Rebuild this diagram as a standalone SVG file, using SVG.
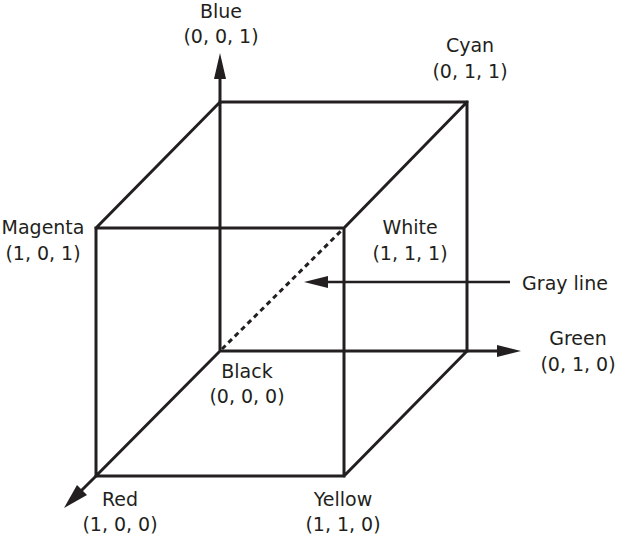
<svg xmlns="http://www.w3.org/2000/svg" width="619" height="537" viewBox="0 0 619 537">
<style>
.e{stroke:#231f20;stroke-width:3;fill:none;stroke-linecap:square}
.d{stroke:#231f20;stroke-width:3;fill:none;stroke-dasharray:5 4}
.a{fill:#231f20}
text{font-family:"DejaVu Sans","Liberation Sans",sans-serif;font-size:19px;fill:#231f20;text-anchor:middle}
</style>
<rect width="619" height="537" fill="#fff"/>
<g id="connectors">
<path class="e" d="M220,102H467V351M220,102V351H467M96,228H344V476H96ZM220,102L96,228M467,102L344,228M467,351L344,476M220,351L96,476"/>
<path class="d" d="M222,349L342,230"/>
<path class="e" d="M220,102V78"/>
<polygon class="a" points="220,53 214,79 226,79"/>
<path class="e" d="M467,351H500"/>
<polygon class="a" points="521,351 497,345 497,357"/>
<path class="e" d="M96,476L82,490"/>
<polygon class="a" points="64,508 77,485 87,495"/>
<path class="e" d="M510,282H325" style="stroke-width:2.5;stroke-linecap:butt"/>
<polygon class="a" points="304,282 328,276 328,288"/>
</g>
<g id="blue"><text x="221" y="18">Blue</text><text x="221" y="43">(0, 0, 1)</text></g>
<g id="cyan"><text x="470" y="52">Cyan</text><text x="470" y="78">(0, 1, 1)</text></g>
<g id="magenta"><text x="43" y="234">Magenta</text><text x="43" y="260">(1, 0, 1)</text></g>
<g id="white"><text x="410" y="234">White</text><text x="410" y="260">(1, 1, 1)</text></g>
<g id="gray"><text x="565" y="290">Gray line</text></g>
<g id="green"><text x="578" y="345">Green</text><text x="578" y="371">(0, 1, 0)</text></g>
<g id="black"><text x="247" y="378">Black</text><text x="247" y="403">(0, 0, 0)</text></g>
<g id="red"><text x="120" y="506">Red</text><text x="120" y="531">(1, 0, 0)</text></g>
<g id="yellow"><text x="343" y="506">Yellow</text><text x="343" y="531">(1, 1, 0)</text></g>
</svg>
